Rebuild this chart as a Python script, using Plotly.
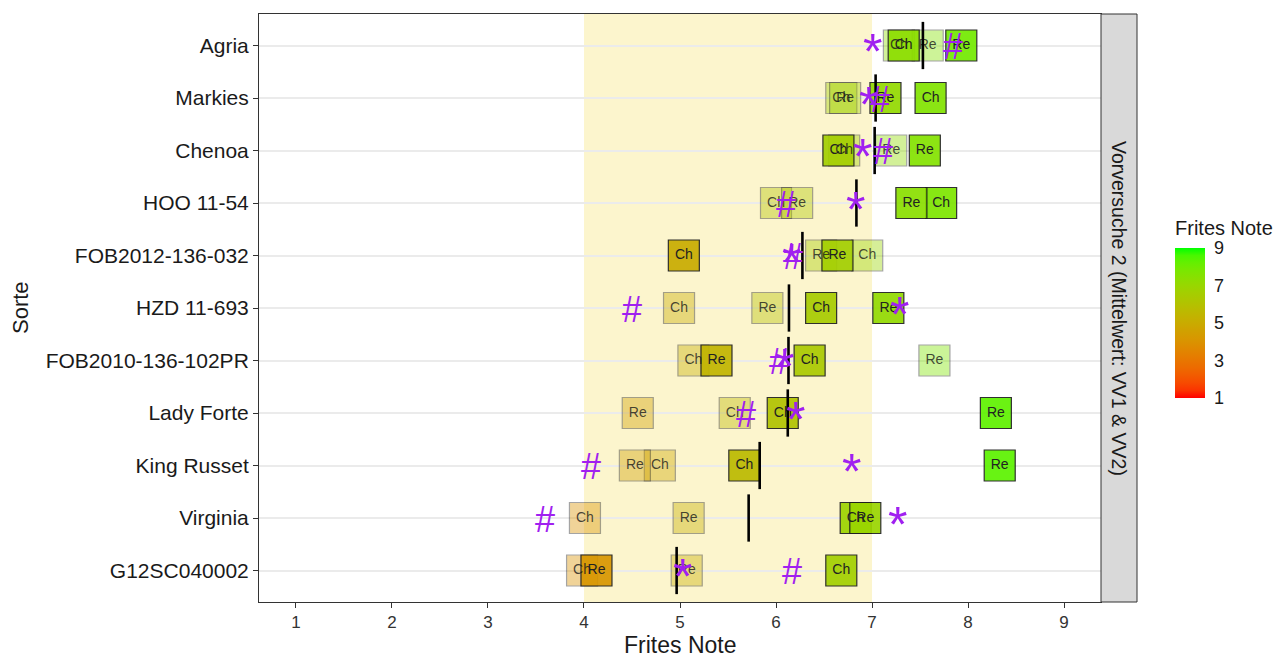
import numpy as np
import plotly.graph_objects as go

# Sorten (top to bottom)
sorten = ["Agria", "Markies", "Chenoa", "HOO 11-54", "FOB2012-136-032", "HZD 11-693",
          "FOB2010-136-102PR", "Lady Forte", "King Russet", "Virginia", "G12SC040002"]

# Frites Note per Sorte, Herkunft (Ch / Re) and Versuch (VV1 / VV2)
ch_vv1 = [7.28, 6.68, 6.71, 6.00, 6.95, 4.99, 5.14, 5.57, 4.79, 4.01, 3.98]
re_vv1 = [7.58, 6.72, 7.20, 6.22, 6.47, 5.91, 7.65, 4.56, 4.53, 5.09, 5.07]
ch_vv2 = [7.33, 7.61, 6.65, 7.72, 5.04, 6.47, 6.35, 6.07, 5.67, 6.83, 6.68]
re_vv2 = [7.93, 7.14, 7.55, 7.41, 6.64, 7.17, 5.38, 8.29, 8.33, 6.93, 4.13]

# Vergleichswerte (* und #)
stern = [7.01, 6.96, 6.90, 6.83, 6.16, 7.29, 6.09, 6.20, 6.79, 7.27, 5.03]
raute = [7.84, 7.08, 7.11, 6.10, 6.18, 4.50, 6.03, 5.69, 4.07, 3.59, 6.17]

x_ticks = [1, 2, 3, 4, 5, 6, 7, 8, 9]
legend_ticks = [1, 3, 5, 7, 9]
band = (4, 7)

FONT = "Liberation Sans, Arial, sans-serif"
PURPLE = "#A020F0"


# ---- red -> green gradient interpolated in CIE Lab (like scales::seq_gradient_pal)
def _to_lin(c):
    c = np.asarray(c, float) / 255.0
    return np.where(c <= 0.04045, c / 12.92, ((c + 0.055) / 1.055) ** 2.4)


def _from_lin(c):
    c = np.where(c <= 0.0031308, 12.92 * c, 1.055 * np.clip(c, 0, None) ** (1 / 2.4) - 0.055)
    return np.clip(np.round(c * 255), 0, 255).astype(int)


M = np.array([[0.4124, 0.3576, 0.1805], [0.2126, 0.7152, 0.0722], [0.0193, 0.1192, 0.9505]])
WHITE = np.array([0.95047, 1.0, 1.08883])


def rgb_to_lab(rgb):
    xyz = M @ _to_lin(rgb) / WHITE
    f = np.where(xyz > 0.008856, np.cbrt(xyz), 7.787 * xyz + 16 / 116)
    return np.array([116 * f[1] - 16, 500 * (f[0] - f[1]), 200 * (f[1] - f[2])])


def lab_to_rgb(lab):
    fy = (lab[0] + 16) / 116
    fx = fy + lab[1] / 500
    fz = fy - lab[2] / 200
    f = np.array([fx, fy, fz])
    xyz = np.where(f ** 3 > 0.008856, f ** 3, (f - 16 / 116) / 7.787) * WHITE
    return _from_lin(np.linalg.inv(M) @ xyz)


lab_lo = rgb_to_lab([255, 0, 0])
lab_hi = rgb_to_lab([0, 255, 0])
colorscale = []
for t in np.linspace(0, 1, 21):
    r, g, b = lab_to_rgb(lab_lo + t * (lab_hi - lab_lo))
    colorscale.append([float(t), f"rgb({r},{g},{b})"])

# ---- layout geometry (pixels)
W, H = 1284, 657
ML, MR, MT, MB = 259, 183, 14, 55
PW = W - ML - MR
PH = H - MT - MB


def px_x(p):
    return (p - ML) / PW


def px_y(p):
    return (MT + PH - p) / PH


n = len(sorten)
ypos = np.arange(n)

fig = go.Figure()

# Tiles: VV1 faded, VV2 solid; Ch before Re
tile_x = np.concatenate([ch_vv1, re_vv1, ch_vv2, re_vv2])
tile_y = np.concatenate([ypos] * 4)
tile_lab = ["Ch"] * n + ["Re"] * n + ["Ch"] * n + ["Re"] * n
tile_alpha = [0.4] * (2 * n) + [0.92] * (2 * n)

fig.add_trace(go.Scatter(
    x=tile_x, y=tile_y, mode="markers", hoverinfo="skip", showlegend=False,
    marker=dict(
        symbol="square", size=31, color=tile_x, colorscale=colorscale, cmin=1, cmax=9,
        opacity=tile_alpha, line=dict(color="#1e1e1e", width=1.2),
        colorbar=dict(
            x=px_x(1175), xanchor="left", xpad=0,
            y=px_y(323), yanchor="middle", ypad=0,
            len=150, lenmode="pixels", thickness=30, thicknessmode="pixels",
            outlinewidth=0, tickvals=legend_ticks, ticks="outside", ticklen=6,
            tickcolor="white", tickwidth=1,
            tickfont=dict(family=FONT, size=18, color="#1a1a1a"),
        ),
    ),
))

# Tile labels
text_col = ["rgba(25,25,25,0.8)"] * (2 * n) + ["#222222"] * (2 * n)
fig.add_trace(go.Scatter(
    x=tile_x, y=tile_y, mode="text", text=tile_lab, textposition="middle center",
    textfont=dict(family=FONT, size=14, color=text_col),
    hoverinfo="skip", showlegend=False,
))

# Mittelwert je Sorte (vertical bar)
mean_vals = np.mean(np.vstack([ch_vv1, re_vv1, ch_vv2, re_vv2]), axis=0)
mx, my = [], []
for m, yv in zip(mean_vals, ypos):
    mx += [m, m, None]
    my += [yv - 0.45, yv + 0.45, None]
fig.add_trace(go.Scatter(x=mx, y=my, mode="lines", line=dict(color="black", width=2.6),
                         hoverinfo="skip", showlegend=False))

# Vergleichswerte as glyphs
for xs, yv in zip(raute, ypos):
    fig.add_annotation(x=xs, y=yv, text="#", showarrow=False, xanchor="center", yanchor="middle",
                       font=dict(family=FONT, size=36, color=PURPLE), yshift=-1)
for xs, yv in zip(stern, ypos):
    fig.add_annotation(x=xs, y=yv, text="*", showarrow=False, xanchor="center", yanchor="middle",
                       font=dict(family=FONT, size=50, color=PURPLE), yshift=-6.5)

# Highlighted range
fig.add_shape(type="rect", xref="x", yref="paper", x0=band[0], x1=band[1], y0=0, y1=1,
              fillcolor="#FCF5CD", line=dict(width=0), layer="below")

# Facet strip on the right
sw = 36 / PW
fig.add_shape(type="rect", xref="paper", yref="paper", x0=1, x1=1 + sw, y0=0, y1=1,
              fillcolor="#D9D9D9", line=dict(color="#333333", width=1), layer="above")
fig.add_annotation(xref="paper", yref="paper", x=1 + sw / 2, y=0.5, showarrow=False,
                   xanchor="center", yanchor="middle",
                   text="Vorversuche 2 (Mittelwert: VV1 & VV2)", textangle=90,
                   font=dict(family=FONT, size=19.5, color="#1a1a1a"))

# Axis titles and legend title
fig.add_annotation(xref="paper", yref="paper", x=0.5, y=px_y(645), showarrow=False,
                   xanchor="center", yanchor="middle",
                   text="Frites Note", font=dict(family=FONT, size=23, color="#1a1a1a"))
fig.add_annotation(xref="paper", yref="paper", x=px_x(20), y=px_y(308),
                   xanchor="center", yanchor="middle",
                   showarrow=False, text="Sorte", textangle=-90,
                   font=dict(family=FONT, size=22, color="#1a1a1a"))
fig.add_annotation(xref="paper", yref="paper", x=px_x(1173), y=px_y(228),
                   xanchor="left", yanchor="middle", showarrow=False, text="Frites Note",
                   font=dict(family=FONT, size=20, color="#1a1a1a"))

fig.update_layout(
    width=W, height=H, margin=dict(l=ML, r=MR, t=MT, b=MB),
    paper_bgcolor="white", plot_bgcolor="white",
    font=dict(family=FONT, color="#1a1a1a"),
    xaxis=dict(range=[0.615, 9.385], tickvals=x_ticks, showgrid=False, zeroline=False,
               ticks="outside", ticklen=5, tickcolor="#333333", tickwidth=1,
               tickfont=dict(family=FONT, size=17, color="#333333"),
               showline=True, mirror=True, linecolor="#333333", linewidth=1),
    yaxis=dict(range=[n - 0.4, -0.6], tickvals=list(ypos), ticktext=sorten,
               showgrid=True, gridcolor="#EBEBEB", gridwidth=1.6, zeroline=False,
               ticks="outside", ticklen=5, tickcolor="#333333", tickwidth=1,
               tickfont=dict(family=FONT, size=21, color="#1a1a1a"),
               showline=True, mirror=True, linecolor="#333333", linewidth=1),
)

fig.write_html("out.html")
